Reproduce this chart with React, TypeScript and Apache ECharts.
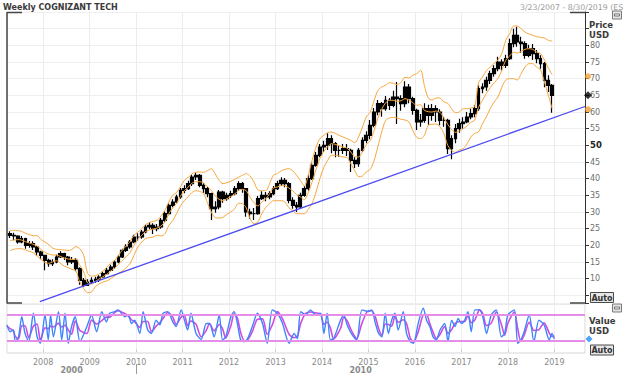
import React, { useEffect, useRef } from 'react';
import * as echarts from 'echarts';

// ---------- axis extents ----------
const RANGE_START = [2007, 2, 23]; // 3/23/2007
const RANGE_END = [2019, 7, 30]; // 8/30/2019
const FIRST_MONTH = [2007, 3]; // monthly candles start April 2007 (mid-month)

// ---------- monthly price candles ----------
const opens = [
  23.5, 23, 22.8, 21, 22, 20, 20.5, 19.5, 18,
  17, 15.5, 14.5, 15, 16.5, 17.5, 16.5, 15, 15.5, 13, 9.5, 8,
  9, 9.5, 9.8, 10.5, 11.5, 12.5, 13.5, 15, 16.5, 18.5, 19.5, 21,
  22.5, 22.5, 24, 25.5, 26, 25, 25.5, 27.5, 29.5, 32, 33, 34.5,
  36.5, 37, 38.5, 40.5, 41, 38, 37, 35.5, 31, 31.5, 36, 34,
  35, 35.5, 37, 38.5, 37, 30, 29.5, 29.5, 34, 35, 34.5, 35.5,
  37, 38.5, 39.5, 38.5, 33.5, 32, 31.5, 35, 37, 40, 44, 47,
  49.5, 50, 52, 50.5, 48.5, 48.5, 49, 48.5, 45.5, 44.5, 48.5, 51.5,
  53, 56, 60, 62.5, 61, 63.5, 62, 64.5, 64, 62.5, 67.5, 64,
  60.5, 57, 57.5, 61, 59, 61, 60, 57.5, 57.5, 49, 52, 55,
  56.5, 57, 58.5, 59.5, 61, 67, 67.5, 69.5, 71.5, 73, 75, 74,
  76, 80.5, 83, 81, 80.5, 77, 79, 77.5, 76, 74.5, 69.5, 68,
];
const closes = [
  23, 22.8, 21, 22, 20, 20.5, 19.5, 18, 17,
  15.5, 14.5, 15, 16.5, 17.5, 16.5, 15, 15.5, 13, 9.5, 8, 9,
  9.5, 9.8, 10.5, 11.5, 12.5, 13.5, 15, 16.5, 18.5, 19.5, 21, 22.5,
  22.5, 24, 25.5, 26, 25, 25.5, 27.5, 29.5, 32, 33, 34.5, 36.5,
  37, 38.5, 40.5, 41, 38, 37, 35.5, 31, 31.5, 36, 34, 35,
  35.5, 37, 38.5, 37, 30, 29.5, 29.5, 34, 35, 34.5, 35.5, 37,
  38.5, 39.5, 38.5, 33.5, 32, 31.5, 35, 37, 40, 44, 47, 49.5,
  50, 52, 50.5, 48.5, 48.5, 49, 48.5, 45.5, 44.5, 48.5, 51.5, 53,
  56, 60, 62.5, 61, 63.5, 62, 64.5, 64, 62.5, 67.5, 64, 60.5,
  57, 57.5, 61, 59, 61, 60, 57.5, 57.5, 49, 52, 55, 56.5,
  57, 58.5, 59.5, 61, 67, 67.5, 69.5, 71.5, 73, 75, 74, 76,
  80.5, 83, 81, 80.5, 77, 79, 77.5, 76, 74.5, 69.5, 68, 65,
];
const lows = [
  22.2, 21.5, 20.5, 20.6, 19, 19.3, 18.6, 16.8, 15.8,
  12.5, 13.6, 13.8, 14.6, 16.2, 15.6, 14, 14.4, 12.2, 8.2, 7.6, 7.8,
  8.4, 8.8, 9, 10.2, 11.2, 12.2, 13, 14.6, 16.2, 18, 19, 20.6,
  21.4, 22, 23.6, 24.8, 23.4, 24.2, 25, 27, 29, 31.4, 32.6, 34,
  35.6, 36.6, 37.8, 39.6, 37.4, 35.8, 34.4, 27.6, 29.8, 30.8, 32.8, 33.4,
  34.2, 35, 36.4, 35.8, 28.6, 28, 27.6, 29.2, 33.6, 33.2, 33.8, 35,
  36.6, 37.8, 37.4, 32.6, 31, 30, 31, 34.6, 36.4, 39.6, 43.6, 46.4,
  48, 48.6, 47.6, 46.4, 46.6, 47.4, 46.8, 42, 43.2, 43.6, 48, 50.6,
  51.8, 55.4, 59, 58.6, 60.4, 60.6, 61.4, 56.4, 60.4, 61.4, 62.6, 59.2,
  54.6, 55.6, 56.8, 56.2, 57.4, 57, 56, 55.6, 47.4, 45.8, 50.6, 53.8,
  55, 56.6, 57.8, 58.4, 60.4, 65.6, 66.4, 68.4, 70.6, 72.2, 72.4, 73.2,
  75.6, 79.4, 79.6, 77.8, 76, 76.4, 75.6, 74.6, 73, 67.4, 66, 59.8,
];
const highs = [
  24.2, 23.8, 23, 22.8, 22.3, 21.3, 21.2, 19.8, 18.4,
  17.2, 16, 15.8, 17.2, 18.2, 17.8, 16.8, 16.5, 16.2, 13.4, 10.2, 9.8,
  10.4, 10.6, 11, 12.2, 13.2, 14.2, 15.6, 17, 19, 20.3, 21.6, 23.2,
  23.6, 24.6, 26.2, 27, 26.6, 26.4, 28.2, 30.2, 32.6, 33.8, 35.2, 37.2,
  38, 39.4, 41.2, 41.8, 41.4, 38.6, 37.6, 35.8, 33.2, 36.6, 36.4, 35.8,
  36.4, 37.8, 39.2, 39, 37.2, 31, 31.2, 34.8, 36.2, 36, 36.2, 37.8,
  39.4, 40.4, 40.2, 39, 34.4, 33, 35.8, 37.8, 41, 45, 48, 50.4,
  51.4, 53.6, 53, 51, 50, 50.4, 50.4, 49, 46.4, 49.2, 52.4, 54.2,
  57.6, 61.2, 63.6, 63, 64.8, 64.2, 66.4, 69, 65, 69.2, 68.4, 64.6,
  61, 59.4, 62.6, 62.2, 62.4, 62, 60.8, 58.6, 58, 53, 56.4, 58,
  58.4, 60, 61, 62, 68, 68.6, 70.6, 72.4, 74, 76.6, 75.8, 77.2,
  82, 85, 85.6, 82.6, 81.2, 80.2, 80.4, 78.6, 77, 75, 71, 68.4,
];

// ---------- envelope bands (orange) ----------
const bandUpper = [
  24.4, 24.5, 24.4, 24.2, 23.6, 23.2, 22.9, 22.9, 21.8,
  21, 20.2, 19.2, 18.8, 18.7, 18.6, 18.4, 18.8, 19.6, 19, 17, 11.6,
  10.8, 10.9, 11.4, 12.3, 13.4, 14.6, 15.4, 17, 18.6, 19.8, 21.2, 23,
  24, 25, 26.2, 26.8, 27.2, 27.5, 28.8, 30.5, 33, 35, 35.8, 37.6,
  39.5, 40.4, 41.4, 41.9, 42, 41.9, 42.4, 43, 41.4, 39.5, 38.5, 38.8,
  39.2, 39.8, 40.4, 41, 41.5, 40.8, 39, 36.6, 36.4, 36.4, 38.5, 41,
  41.5, 42.4, 42.8, 43, 42.4, 41, 39.5, 37.8, 41, 45.5, 49.5, 52,
  53, 53.8, 54, 53.6, 53, 52.5, 52, 51.5, 50.8, 52.5, 55.5, 58.5,
  60, 63.5, 66.4, 67.5, 68, 68.8, 68.6, 68.2, 69, 70.4, 70.2, 71,
  71.5, 72.5, 68, 64.2, 63.6, 64.2, 64.2, 63, 62.6, 61, 59.8, 60,
  61, 61, 61.2, 61.6, 68.7, 70.5, 72.4, 73.5, 74.6, 75.6, 77.6, 81.5,
  83.5, 85.8, 85.8, 85, 84, 83.4, 83, 82.6, 82.4, 82.2, 81.5, 81.3,
];
const bandMid = [
  21.4, 21.6, 21.7, 21.6, 21.1, 20.7, 20.3, 19.8, 18.8,
  17.9, 17.4, 17.1, 17.1, 16.7, 16.2, 15.9, 15.8, 15.9, 14, 12, 8.7,
  8.4, 9.2, 9.9, 10.6, 11.3, 12.3, 13.1, 14.3, 15.5, 16.6, 17.9, 20,
  21.8, 23, 24.1, 24.6, 24.9, 25.2, 25.8, 27, 29.5, 31.2, 32.6, 34.7,
  36.4, 37.5, 38.6, 39.1, 39.1, 38.7, 37.6, 36.5, 34.8, 33.8, 33.4, 34,
  34.6, 35.4, 36.5, 36.8, 36.4, 34.4, 32.8, 31.8, 33, 33.9, 35.5, 37.2,
  37.5, 37.9, 37.9, 37.2, 36.4, 35.2, 34.5, 33.7, 35.9, 39, 42.8, 46,
  48.2, 49.6, 50.5, 50.3, 49.9, 49.5, 49.2, 48, 46.6, 46.5, 48.1, 50.2,
  51.4, 54.5, 58, 60.8, 62.7, 63.5, 63.5, 63.2, 63.4, 64, 63.6, 62.8,
  62, 62.2, 60.5, 60.1, 60, 60.3, 59.9, 58.3, 56.3, 54.8, 53.9, 54.3,
  55, 55.8, 56.9, 57.6, 61.4, 63.5, 65.5, 67.3, 68.8, 70, 72.6, 75.5,
  76.8, 77.9, 77.7, 78.2, 78.8, 79, 78.8, 78, 77.5, 75.6, 73.2, 71.2,
];
const bandLower = [
  18.4, 18.8, 19, 19, 18.6, 18.2, 17.8, 16.8, 15.8,
  14.9, 14.6, 15, 15.4, 14.6, 13.8, 13.3, 12.8, 12.3, 9, 7, 5.8,
  6, 7.6, 8.4, 9, 9.3, 10, 10.8, 11.6, 12.3, 13.3, 14.6, 17,
  19.5, 21, 22, 22.3, 22.5, 23, 22.8, 23.5, 26, 27.4, 29.5, 31.8,
  33.4, 34.6, 35.8, 36.4, 36.2, 35.5, 32.8, 30, 28.3, 28.2, 28.4, 29.3,
  30, 31, 32.6, 32.5, 31.3, 28, 26.5, 27, 29.5, 31.3, 32.5, 33.4,
  33.4, 33.4, 33, 31.3, 30.4, 29.5, 29.5, 29.5, 30.8, 32.6, 36, 40,
  43.4, 45.5, 47, 47, 46.8, 46.5, 46.4, 44.5, 42.5, 40.6, 40.8, 42,
  42.8, 45.5, 49.5, 54, 57.4, 58.2, 58.4, 58.2, 57.8, 57.6, 57, 54.5,
  52.4, 52, 53, 56, 56.3, 56.4, 55.6, 53.6, 50, 48.5, 47.9, 48.6,
  49, 50.5, 52.5, 53.6, 54, 56.5, 58.5, 61, 63, 64.5, 67.5, 69.6,
  70, 70, 69.6, 71.5, 73.5, 74.5, 74.5, 73.5, 72.6, 69, 65, 61,
];

// ---------- blue trend line (two anchor points: [y, m, d], value) ----------
const trendStart = { date: [2007, 11, 6], value: 3.1 };
const trendEnd = { date: [2019, 7, 30], value: 61.65 };

// ---------- last-value markers on the price axis ----------
const priceMarkers = [
  { value: 70.7, color: '#f5a030', symbol: 'circle', size: 6 },
  { value: 60.8, color: '#f5a030', symbol: 'circle', size: 6 },
  { value: 65, color: '#000000', symbol: 'diamond', size: 8 },
];

// ---------- oscillator (decimal years, values) ----------
const oscTimes = [
  2007.22, 2007.29, 2007.36, 2007.40, 2007.47, 2007.54, 2007.61, 2007.69, 2007.79, 2007.87,
  2007.94, 2008.04, 2008.11, 2008.16, 2008.22, 2008.33, 2008.40, 2008.47, 2008.54, 2008.61,
  2008.69, 2008.79, 2008.94, 2009.04, 2009.15, 2009.26, 2009.36, 2009.43, 2009.54, 2009.61,
  2009.76, 2009.83, 2009.90, 2009.97, 2010.08, 2010.15, 2010.25, 2010.33, 2010.43, 2010.51,
  2010.58, 2010.68, 2010.79, 2010.86, 2010.97, 2011.04, 2011.11, 2011.18, 2011.29, 2011.40,
  2011.51, 2011.58, 2011.68, 2011.79, 2011.86, 2011.93, 2012.04, 2012.11, 2012.18, 2012.25,
  2012.33, 2012.40, 2012.50, 2012.61, 2012.72, 2012.82, 2012.93, 2013.04, 2013.15, 2013.29,
  2013.40, 2013.47, 2013.54, 2013.65, 2013.75, 2013.86, 2013.97, 2014.04, 2014.11, 2014.18,
  2014.25, 2014.40, 2014.47, 2014.54, 2014.61, 2014.68, 2014.75, 2014.86, 2015.00, 2015.07,
  2015.15, 2015.22, 2015.29, 2015.36, 2015.43, 2015.50, 2015.57, 2015.64, 2015.75, 2015.82,
  2015.90, 2015.97, 2016.07, 2016.18, 2016.25, 2016.32, 2016.39, 2016.46, 2016.54, 2016.64,
  2016.71, 2016.79, 2016.86, 2016.93, 2017.00, 2017.07, 2017.14, 2017.21, 2017.29, 2017.39,
  2017.46, 2017.54, 2017.64, 2017.75, 2017.86, 2017.93, 2018.00, 2018.14, 2018.21, 2018.28,
  2018.35, 2018.46, 2018.56, 2018.67, 2018.78, 2018.89, 2018.95, 2019.00,
];
const oscK = [
  57, 41, 45, 18, 29, 76, 37, 18, 84, 29,
  14, 80, 22, 80, 29, 88, 22, 84, 14, 53,
  76, 18, 53, 80, 41, 88, 64, 84, 88, 92,
  76, 80, 60, 68, 37, 88, 45, 37, 68, 57,
  84, 88, 64, 53, 92, 68, 45, 84, 37, 23,
  60, 60, 29, 80, 22, 29, 76, 88, 60, 22,
  18, 25, 53, 84, 60, 14, 92, 84, 60, 14,
  37, 25, 88, 80, 92, 80, 84, 37, 84, 22,
  25, 68, 80, 57, 41, 29, 22, 92, 88, 92,
  60, 37, 29, 84, 37, 68, 84, 45, 88, 37,
  18, 14, 60, 96, 68, 53, 29, 22, 45, 60,
  18, 68, 53, 72, 60, 68, 88, 41, 92, 92,
  76, 37, 80, 92, 29, 37, 80, 92, 14, 22,
  41, 80, 18, 68, 57, 22, 37, 24,
];
const oscD = [
  55, 48, 43, 30, 24, 55, 55, 27, 54, 59,
  21, 50, 48, 54, 52, 61, 52, 56, 45, 35,
  66, 44, 37, 68, 59, 67, 75, 75, 86, 90,
  83, 78, 69, 64, 51, 65, 65, 41, 54, 62,
  72, 86, 75, 58, 75, 79, 55, 66, 58, 29,
  44, 60, 43, 58, 48, 26, 55, 83, 73, 39,
  20, 22, 41, 70, 71, 35, 57, 88, 71, 35,
  27, 30, 60, 84, 87, 85, 82, 58, 63, 50,
  24, 49, 75, 67, 49, 34, 25, 61, 90, 90,
  75, 48, 33, 59, 58, 54, 77, 63, 69, 60,
  26, 16, 40, 80, 81, 60, 40, 25, 35, 53,
  37, 46, 60, 64, 65, 65, 79, 62, 69, 92,
  83, 55, 61, 87, 58, 33, 61, 87, 49, 18,
  33, 63, 44, 46, 62, 38, 30, 30,
];
const oscLevels = [20, 80];
const oscLastValue = 24;

// ---------- price axis labels ----------
const priceLabelMin = 10;
const priceLabelMax = 80;
const priceBoldLabel = 50;

const FONT = 'DejaVu Sans';

function utc(a: number[]) {
  return Date.UTC(a[0], a[1], a[2]);
}
function decYear(t: number) {
  const y = Math.floor(t);
  const a = Date.UTC(y, 0, 1);
  const b = Date.UTC(y + 1, 0, 1);
  return a + (t - y) * (b - a);
}

export default function App() {
  const ref = useRef<HTMLDivElement>(null);

  useEffect(() => {
    if (!ref.current) return;
    const chart = echarts.init(ref.current, null, { renderer: 'svg' });
    const T0 = utc(RANGE_START);
    const T1 = utc(RANGE_END);
    const monthTs = closes.map((_, i) => Date.UTC(FIRST_MONTH[0], FIRST_MONTH[1] + i, 15));
    const candles = monthTs.map((t, i) => [t, opens[i], closes[i], lows[i], highs[i]]);
    const band = (arr: number[]) => monthTs.map((t, i) => [t, arr[i]]);
    const oscTs = oscTimes.map(decYear);
    const YEAR = 365 * 24 * 3600 * 1000;

    const yearFormatter = (v: number) => {
      const d = new Date(v);
      return d.getMonth() === 0 && d.getDate() === 1 ? String(d.getFullYear()) : '';
    };

    const option: any = {
      animation: false,
      backgroundColor: '#ffffff',
      grid: [
        { left: 7, top: 12, width: 578, height: 291, show: false },
        {
          left: 7, top: 304, width: 578, height: 49, show: true,
          borderColor: '#d6d6d6', borderWidth: 1, backgroundColor: 'transparent',
        },
      ],
      xAxis: [
        {
          type: 'time', gridIndex: 0, min: T0, max: T1, splitNumber: 12,
          minInterval: YEAR, maxInterval: YEAR + 86400000,
          axisLine: { show: false }, axisTick: { show: false }, axisLabel: { show: false },
          splitLine: { show: true, lineStyle: { color: '#ececec', width: 1 } },
        },
        {
          type: 'time', gridIndex: 1, min: T0, max: T1, splitNumber: 12,
          minInterval: YEAR, maxInterval: YEAR + 86400000,
          axisLine: { show: false },
          axisTick: { show: true, length: 3, lineStyle: { color: '#cccccc' } },
          axisLabel: {
            show: true, formatter: yearFormatter, color: '#8a8a8a',
            fontSize: 8, fontFamily: FONT, margin: 5, hideOverlap: false,
          },
          splitLine: { show: true, lineStyle: { color: '#efefef', width: 1 } },
        },
      ],
      yAxis: [
        {
          type: 'value', gridIndex: 0, position: 'right', min: 2.7, max: 90,
          splitNumber: 17, minInterval: 5, maxInterval: 5,
          axisLine: { show: true, lineStyle: { color: '#333333', width: 1 } },
          axisTick: { show: true, inside: false, length: 4, lineStyle: { color: '#333333' } },
          axisLabel: {
            show: true, margin: 5, color: '#6e6e6e', fontSize: 8, fontFamily: FONT,
            formatter: (v: number) => {
              if (Math.abs(v - Math.round(v)) > 1e-6) return '';
              const r = Math.round(v);
              if (r < priceLabelMin || r > priceLabelMax || r % 5 !== 0) return '';
              return r === priceBoldLabel ? '{b|' + r + '}' : String(r);
            },
            rich: { b: { fontWeight: 'bold', color: '#222222', fontSize: 8.5, fontFamily: FONT } },
          },
          splitLine: { show: true, lineStyle: { color: '#efefef', width: 1 } },
        },
        {
          type: 'value', gridIndex: 1, min: -8.7, max: 105.7,
          axisLine: { show: false }, axisTick: { show: false }, axisLabel: { show: false },
          splitLine: { show: false },
        },
      ],
      series: [
        {
          type: 'candlestick', xAxisIndex: 0, yAxisIndex: 0, data: candles,
          encode: { x: 0, y: [1, 2, 3, 4] }, barWidth: 3.3,
          itemStyle: {
            color: '#000000', color0: '#000000', borderColor: '#000000',
            borderColor0: '#000000', borderWidth: 1.2,
          },
          z: 2,
        },
        ...[bandUpper, bandMid, bandLower].map((arr) => ({
          type: 'line', xAxisIndex: 0, yAxisIndex: 0, data: band(arr),
          showSymbol: false, symbol: 'none', smooth: 0.3,
          lineStyle: { color: '#f6a63e', width: 1 }, z: 3,
        })),
        {
          type: 'line', xAxisIndex: 0, yAxisIndex: 0,
          data: [[utc(trendStart.date), trendStart.value], [utc(trendEnd.date), trendEnd.value]],
          showSymbol: false, symbol: 'none',
          lineStyle: { color: '#4b4bf2', width: 1.3 }, z: 4,
        },
        {
          type: 'scatter', xAxisIndex: 0, yAxisIndex: 0, clip: false,
          data: priceMarkers.map((m) => ({
            value: [T1, m.value], symbol: m.symbol, symbolSize: m.size,
            itemStyle: { color: m.color },
          })),
          symbolOffset: [3, 0], z: 6,
        },
        {
          type: 'line', xAxisIndex: 1, yAxisIndex: 1,
          data: oscTs.map((t, i) => [t, oscD[i]]),
          showSymbol: false, symbol: 'none', smooth: 0.25,
          lineStyle: { color: '#d24bdc', width: 1.6 }, z: 3,
          markLine: {
            silent: true, symbol: 'none', label: { show: false },
            lineStyle: { color: '#e48ee9', width: 2, type: 'solid' },
            data: oscLevels.map((v) => ({ yAxis: v })),
          },
        },
        {
          type: 'line', xAxisIndex: 1, yAxisIndex: 1,
          data: oscTs.map((t, i) => [t, oscK[i]]),
          showSymbol: false, symbol: 'none', smooth: 0.25,
          lineStyle: { color: '#3d84ff', width: 1.4 }, z: 4,
        },
        {
          type: 'scatter', xAxisIndex: 1, yAxisIndex: 1, clip: false,
          data: [[T1, oscLastValue]], symbol: 'diamond', symbolSize: 7,
          symbolOffset: [4, 0], itemStyle: { color: '#1f8fff' }, z: 6,
        },
      ],
    };
    chart.setOption(option);

    const x2010 = chart.convertToPixel({ xAxisIndex: 1 }, Date.UTC(2010, 0, 1)) as number;
    const xs = chart.convertToPixel({ xAxisIndex: 1 }, T0) as number;
    const xe = chart.convertToPixel({ xAxisIndex: 1 }, T1) as number;

    const txt = (x: number, y: number, text: string, o: any = {}) => ({
      type: 'text', x, y, silent: true,
      style: {
        text, fill: o.fill || '#333333', fontSize: o.size || 8, fontWeight: o.weight || 'normal',
        fontFamily: FONT, align: o.align || 'left', textAlign: o.align || 'left',
        verticalAlign: 'top', textVerticalAlign: 'top',
      },
    });
    const ln = (x1: number, y1: number, x2: number, y2: number, stroke = '#444444', w = 1.5) => ({
      type: 'line', silent: true, shape: { x1, y1, x2, y2 }, style: { stroke, lineWidth: w },
    });
    const autoBtn = (y: number) => [
      { type: 'rect', silent: true, shape: { x: 590.5, y, width: 23, height: 10 },
        style: { fill: '#e6e6e6', stroke: '#4a4a4a', lineWidth: 1 } },
      txt(602, y + 1.5, 'Auto', { weight: 'bold', size: 8, fill: '#333333', align: 'center' }),
    ];
    const minusIcon = (y: number) => [
      { type: 'rect', silent: true, shape: { x: 612.5, y, width: 9, height: 8 },
        style: { fill: '#e4e4e4', stroke: '#7a7a7a', lineWidth: 1 } },
      { type: 'rect', silent: true, shape: { x: 614.5, y: y + 3, width: 5, height: 2 },
        style: { fill: '#ffffff', stroke: '#555555', lineWidth: 0.8 } },
    ];

    chart.setOption({
      graphic: [
        txt(3, 3, 'Weekly COGNIZANT TECH', { weight: 'bold', size: 8, fill: '#3a3a3a' }),
        txt(520, 3, '3/23/2007 - 8/30/2019 (ES', { size: 7.8, fill: '#9a9a9a' }),
        ln(7, 12.5, 22, 12.5),
        ln(7, 12, 7, 303.5),
        ln(7, 303, 22, 303),
        ln(570, 12.5, 585.5, 12.5),
        ln(570, 303, 585.5, 303),
        txt(589, 20.5, 'Price', { weight: 'bold', size: 8.5, fill: '#3a3a3a' }),
        txt(589, 30, 'USD', { weight: 'bold', size: 8.5, fill: '#3a3a3a' }),
        txt(589, 316, 'Value', { weight: 'bold', size: 8.5, fill: '#3a3a3a' }),
        txt(589, 326, 'USD', { weight: 'bold', size: 8.5, fill: '#3a3a3a' }),
        ...autoBtn(292.5),
        ...autoBtn(345),
        ...minusIcon(11),
        ...minusIcon(304),
        txt((xs + x2010) / 2, 366, '2000', { weight: 'bold', size: 8, fill: '#8a8a8a', align: 'center' }),
        txt((x2010 + xe) / 2, 366, '2010', { weight: 'bold', size: 8, fill: '#8a8a8a', align: 'center' }),
        ln(Math.round(x2010) + 0.5, 364, Math.round(x2010) + 0.5, 374, '#9a9a9a', 1),
      ],
    });

    return () => chart.dispose();
  }, []);

  return (
    <div
      ref={ref}
      style={{ position: 'fixed', left: 0, top: 0, width: 624, height: 374, background: '#fff' }}
    />
  );
}
